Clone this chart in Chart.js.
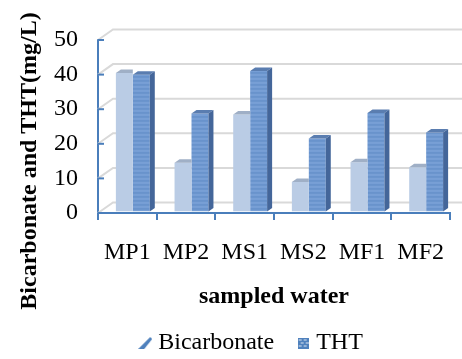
<!DOCTYPE html>
<html>
<head>
<meta charset="utf-8">
<script src="https://cdn.jsdelivr.net/npm/chart.js@4"></script>
<style>
  html, body { margin: 0; padding: 0; background: #fff; }
  #wrap { width: 462px; height: 359px; }
</style>
</head>
<body>
<div id="wrap"><canvas id="chart"></canvas></div>
<script>
const categories = ['MP1', 'MP2', 'MS1', 'MS2', 'MF1', 'MF2'];
const bicarbonate = [40, 14.1, 28, 8.5, 14.2, 12.8];
const tht = [39.5, 28.3, 40.6, 21.1, 28.5, 22.8];
const yTicks = [0, 10, 20, 30, 40, 50];
const yTitle = 'Bicarbonate and THT(mg/L)';
const xTitle = 'sampled water';

const FONT = "'Liberation Serif', 'Times New Roman', serif";
const AXIS_BLUE = '#4a7ebb';
const GRID_GRAY = '#d9d9d9';
// back wall depth, bar depth and how far the bars sit into the box
const WALL_DX = 15, WALL_DY = -10.5;
const BAR_DX = 5, BAR_DY = -3.5;
const SHIFT_X = 5.5, SHIFT_Y = -1.5;

const canvas = document.getElementById('chart');
const ctx = canvas.getContext('2d');

function makeTile(w, h, paint) {
  const c = document.createElement('canvas');
  c.width = w;
  c.height = h;
  paint(c.getContext('2d'));
  return c;
}

// fine check for bicarbonate, horizontal streaks for THT
const bicTile = makeTile(2, 2, (g) => {
  g.fillStyle = '#dae5f2';
  g.fillRect(0, 0, 2, 2);
  g.fillStyle = '#9ab4d8';
  g.fillRect(0, 0, 1, 1);
  g.fillRect(1, 1, 1, 1);
});
const thtTile = makeTile(1, 4, (g) => {
  ['#7ea5da', '#6d96cf', '#6590c9', '#7199d0'].forEach((c, i) => {
    g.fillStyle = c;
    g.fillRect(0, i, 1, 1);
  });
});

const faceColors = [
  { top: '#9fafc6', side: '#7f98ba' },
  { top: '#5a7db0', side: '#44669a' },
];

const legendIcons = [
  makeTile(14, 12, (g) => {
    g.fillStyle = '#4f81bd';
    g.beginPath();
    g.moveTo(0, 12);
    g.lineTo(6, 12);
    g.lineTo(14, 2);
    g.lineTo(12, 0);
    g.closePath();
    g.fill();
  }),
  makeTile(11, 11, (g) => {
    g.fillStyle = '#4f81bd';
    g.fillRect(0, 0, 11, 11);
    g.fillStyle = '#dce6f2';
    [[1, 2], [6, 2], [3, 5], [8, 5], [1, 8], [6, 8]].forEach(([x, y]) => g.fillRect(x, y, 3, 1));
  }),
];

function fillPoly(c, color, pts) {
  c.fillStyle = color;
  c.beginPath();
  pts.forEach(([x, y], i) => (i ? c.lineTo(x, y) : c.moveTo(x, y)));
  c.closePath();
  c.fill();
}

const depth3d = {
  id: 'depth3d',
  beforeDatasetsDraw(chart) {
    const { ctx: c, chartArea, scales: { y } } = chart;
    c.save();
    c.lineWidth = 2;
    c.strokeStyle = GRID_GRAY;
    yTicks.forEach((v) => {
      const py = y.getPixelForValue(v);
      c.beginPath();
      c.moveTo(chartArea.left, py);
      c.lineTo(chartArea.left + WALL_DX, py + WALL_DY);
      c.lineTo(chart.width, py + WALL_DY);
      c.stroke();
    });
    c.strokeStyle = AXIS_BLUE;
    yTicks.forEach((v) => {
      const py = y.getPixelForValue(v);
      c.beginPath();
      c.moveTo(chartArea.left, py);
      c.lineTo(chartArea.left + 6, py);
      c.stroke();
    });
    c.restore();
    c.save();
    c.translate(SHIFT_X, SHIFT_Y);
  },
  afterDatasetDraw(chart, args) {
    const c = chart.ctx;
    const colors = faceColors[args.index];
    // THT is drawn first, bicarbonate sits in front-left of it, so its
    // top face stops at its own right edge and its side stays hidden
    const front = args.index === 0;
    args.meta.data.forEach((bar) => {
      const { x, y, base, width } = bar.getProps(['x', 'y', 'base', 'width'], true);
      const l = x - width / 2;
      const r = x + width / 2;
      if (front) {
        fillPoly(c, colors.top, [[l, y], [l + BAR_DX, y + BAR_DY], [r, y + BAR_DY], [r, y]]);
        return;
      }
      fillPoly(c, colors.top, [[l, y], [l + BAR_DX, y + BAR_DY], [r + BAR_DX, y + BAR_DY], [r, y]]);
      fillPoly(c, colors.side, [[r, y], [r + BAR_DX, y + BAR_DY], [r + BAR_DX, base + BAR_DY], [r, base]]);
    });
  },
  afterDatasetsDraw(chart) {
    chart.ctx.restore();
  },
  afterDraw(chart) {
    const c = chart.ctx;
    c.save();
    c.translate(30, 161);
    c.rotate(-Math.PI / 2);
    c.font = `bold 24px ${FONT}`;
    c.fillStyle = '#000';
    c.textAlign = 'center';
    c.textBaseline = 'middle';
    c.fillText(yTitle, 0, 0);
    c.restore();
  },
};

new Chart(canvas, {
  type: 'bar',
  data: {
    labels: categories,
    datasets: [
      {
        label: 'Bicarbonate',
        data: bicarbonate,
        backgroundColor: ctx.createPattern(bicTile, 'repeat'),
        borderWidth: 0,
      },
      {
        label: 'THT',
        data: tht,
        backgroundColor: ctx.createPattern(thtTile, 'repeat'),
        borderWidth: 0,
      },
    ],
  },
  options: {
    responsive: true,
    maintainAspectRatio: false,
    animation: false,
    layout: { padding: { top: 40, left: 45, right: 0, bottom: -6 } },
    datasets: { bar: { categoryPercentage: 0.578, barPercentage: 1 } },
    plugins: {
      tooltip: { enabled: false },
      legend: {
        position: 'bottom',
        labels: {
          usePointStyle: true,
          pointStyleWidth: 2,
          padding: 28,
          color: '#000',
          font: { family: FONT, size: 24 },
          generateLabels(chart) {
            return Chart.defaults.plugins.legend.labels
              .generateLabels(chart)
              .map((item, i) => ({ ...item, pointStyle: legendIcons[i] }));
          },
        },
      },
    },
    scales: {
      x: {
        offset: true,
        grid: {
          offset: true,
          drawOnChartArea: false,
          tickLength: 7,
          color: AXIS_BLUE,
          lineWidth: 2,
        },
        border: { color: AXIS_BLUE, width: 2 },
        ticks: {
          color: '#000',
          font: { family: FONT, size: 24 },
          padding: 18,
          maxRotation: 0,
          autoSkip: false,
        },
        title: {
          display: true,
          text: xTitle,
          color: '#000',
          font: { family: FONT, size: 24, weight: 'bold', lineHeight: 1 },
          padding: { top: 0, bottom: -6 },
        },
        afterFit(scale) {
          scale.height = 90;
        },
      },
      y: {
        min: 0,
        max: 50,
        ticks: {
          stepSize: 10,
          color: '#000',
          font: { family: FONT, size: 24 },
          padding: 20,
        },
        grid: { display: false, drawTicks: false },
        border: { color: AXIS_BLUE, width: 2 },
        afterFit(scale) {
          scale.width = 53;
        },
      },
    },
  },
  plugins: [depth3d],
});
</script>
</body>
</html>
